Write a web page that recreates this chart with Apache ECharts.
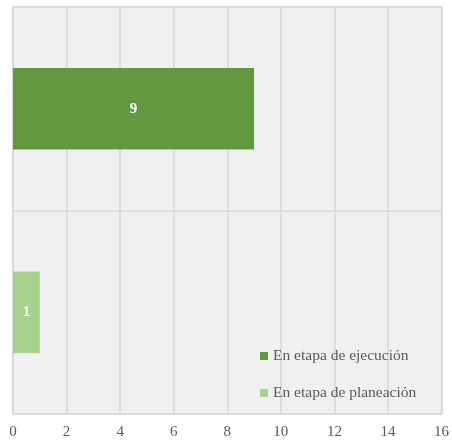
<!DOCTYPE html>
<html><head><meta charset="utf-8">
<script src="https://cdn.jsdelivr.net/npm/echarts@6/dist/echarts.min.js"></script>
<style>html,body{margin:0;padding:0;background:#fff}#c{width:452px;height:440px}</style>
</head><body><div id="c"></div>
<script>
const categories = ['Planeación', 'Ejecución'];
const seriesNames = ['En etapa de ejecución', 'En etapa de planeación'];
const ejecucion = ['-', 9];
const planeacion = [1, '-'];
const xTicks = {min: 0, max: 16, interval: 2};

const chart = echarts.init(document.getElementById('c'));
const font = '"Liberation Serif", "DejaVu Serif", serif';
chart.setOption({
  animation: false,
  grid: {left: 13, right: 9, top: 7, bottom: 25, show: true, backgroundColor: '#f0f0f0', borderColor: '#d9d9d9', borderWidth: 1.5},
  xAxis: {type: 'value', min: xTicks.min, max: xTicks.max, interval: xTicks.interval,
    axisLine: {show: false}, axisTick: {show: false},
    splitLine: {show: true, lineStyle: {color: '#d9d9d9', width: 1.5}},
    axisLabel: {color: '#595959', fontFamily: font, fontSize: 15, margin: 11}},
  yAxis: {type: 'category', data: categories,
    axisLine: {show: true, lineStyle: {color: '#d9d9d9', width: 1.5}}, axisTick: {show: false}, axisLabel: {show: false},
    splitLine: {show: true, lineStyle: {color: '#d9d9d9', width: 1.5}}},
  legend: {orient: 'vertical', left: 255, top: 343, itemGap: 21, itemWidth: 8, itemHeight: 8, icon: 'rect',
    textStyle: {color: '#595959', fontFamily: font, fontSize: 15.5},
    data: seriesNames},
  series: [
    {name: seriesNames[0], type: 'bar', data: ejecucion, barWidth: '40%', barGap: '-100%',
     itemStyle: {color: '#62993e'},
     label: {show: true, position: 'inside', color: '#fff', fontWeight: 'bold', fontFamily: font, fontSize: 15}},
    {name: seriesNames[1], type: 'bar', data: planeacion, barWidth: '40%',
     itemStyle: {color: '#a9d18e'},
     label: {show: true, position: 'inside', color: '#fff', fontWeight: 'bold', fontFamily: font, fontSize: 15}}
  ]
});
</script></body></html>
